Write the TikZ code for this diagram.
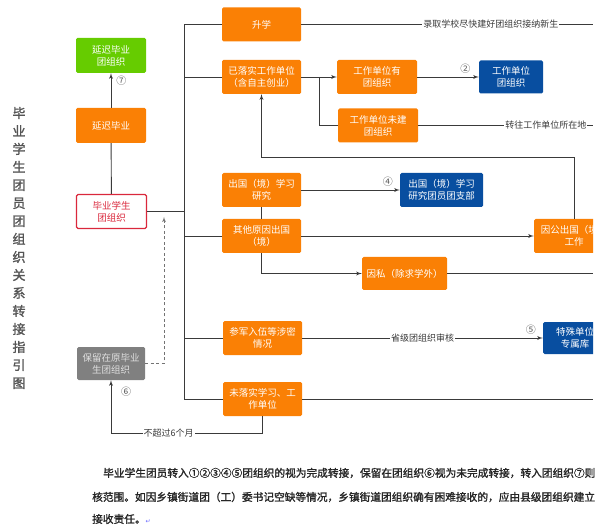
\documentclass[tikz,border=0pt]{standalone}
\usepackage{fontspec}
\setmainfont{Noto Sans CJK SC}
\newfontfamily\heavy[FakeBold=1.6]{Noto Sans CJK SC}
\newfontfamily\symb{DejaVu Sans}
\usetikzlibrary{arrows,positioning}
\definecolor{orangeC}{RGB}{250,128,5}
\definecolor{greenC}{RGB}{102,204,0}
\definecolor{blueC}{RGB}{8,78,160}
\definecolor{grayC}{RGB}{128,128,128}
\definecolor{redC}{RGB}{218,40,60}
\definecolor{lineC}{RGB}{58,58,58}
\definecolor{numC}{RGB}{85,85,85}

\begin{document}
\begin{tikzpicture}[x=1pt,y=-1pt,>=latex',
    box/.style={rounded corners=1.5pt, minimum width=79pt, minimum height=34pt, inner sep=1pt, align=center, text=white, font=\fontsize{9.5}{12}\selectfont},
    org/.style={box, fill=orangeC},
    blu/.style={box, fill=blueC},
    link/.style={draw=lineC, line width=0.9pt},
    lbl/.style={fill=white, inner sep=1pt, text=lineC, font=\fontsize{9}{10}\selectfont},
    num/.style={text=numC, inner sep=1pt, font=\fontsize{10}{10}\selectfont},
    para/.style={anchor=west, inner sep=0pt, text=black!85, font=\heavy\fontsize{10.7}{12}\selectfont}]
    \useasboundingbox (0,0) rectangle (613,529);
    \clip (0,0) rectangle (597,529);
    % title
    \node[text=numC, align=center, font=\heavy\fontsize{13}{18}\selectfont] (title) at (19,248)
        {毕\\业\\学\\生\\团\\员\\团\\组\\织\\关\\系\\转\\接\\指\\引\\图};
    % left column
    \node[box, fill=greenC, minimum width=70pt, minimum height=35pt] (green) at (111,55.5) {延迟毕业\\团组织};
    \node[org, minimum width=70pt, minimum height=35pt] (delay) at (111,125.5) {延迟毕业};
    \node[box, fill=white, draw=redC, line width=1.2pt, text=redC, minimum width=70pt, minimum height=34pt] (grad) at (111.5,211.5) {毕业学生\\团组织};
    \node[box, fill=grayC, text=black!12, minimum width=68pt, minimum height=33pt] (keep) at (111,363.5) {保留在原毕业\\生团组织};
    % branches
    \node[org] (upgrade)     at (261.5,24.5) {升学};
    \node[org] (job)         at (261.5,77)   {已落实工作单位\\（含自主创业）};
    \node[org] (abroadStudy) at (261.5,190)  {出国（境）学习\\研究};
    \node[org] (abroadOther) at (261.5,236)  {其他原因出国\\（境）};
    \node[org] (army)        at (262.5,338)  {参军入伍等涉密\\情况};
    \node[org] (idle)        at (262.5,399)  {未落实学习、工\\作单位};
    \node[org, minimum width=80pt] (jobHas) at (377,77)    {工作单位有\\团组织};
    \node[org, minimum width=80pt] (jobNo)  at (378,125.5) {工作单位未建\\团组织};
    \node[blu, minimum width=64pt, minimum height=33pt] (jobOrg) at (511,77) {工作单位\\团组织};
    \node[blu, minimum width=83pt] (abroadOrg) at (441.5,190) {出国（境）学习\\研究团员团支部};
    \node[org, minimum width=85pt, minimum height=33pt] (private) at (404.5,273.5) {因私（除求学外）};
    \begin{scope}
        \clip (0,0) rectangle (593,529);
        \node[org, minimum width=80pt] (official) at (574,236) {因公出国（境）\\工作};
        \node[blu, minimum width=64pt, minimum height=32pt] (special) at (575,338) {特殊单位\\专属库};
    \end{scope}
    \coordinate (tr) at (184,211.5);
    \coordinate (edge) at (593,0);
    \coordinate (fork) at (319,77);
    \coordinate (back) at (574,157);
    \coordinate (low) at (262.5,433);
    \coordinate (up) at (164,217);
    % connectors
    \draw[link,->] (delay) -- node[num,pos=0.77,right=4pt]{⑦} (green);
    \draw[link] (delay) -- (grad);
    \draw[link] (grad.east) -- (tr);
    \draw[link] (upgrade.west) -| (tr) |- (idle.west);
    \foreach \n in {job,abroadOther,army}
        \draw[link] (tr) |- (\n.west);
    \draw[link] (upgrade.east) -- node[lbl,pos=0.65]{录取学校尽快建好团组织接纳新生} (upgrade.east -| edge);
    \draw[link,->] (job) -- (jobHas);
    \draw[link] (fork) |- (jobNo.west);
    \draw[link,->] (jobHas) -- node[num,pos=0.78,above=2pt]{②} (jobOrg);
    \draw[link] (jobNo.east) -- node[lbl,pos=0.73]{转往工作单位所在地} (jobNo.east -| edge);
    \draw[link,->] (abroadStudy) -- node[num,pos=0.88,above=2pt]{④} (abroadOrg);
    \draw[link] (abroadStudy) -- (abroadOther);
    \draw[link,->] (abroadOther) -- (official);
    \draw[link,->] (abroadOther.south) |- (private.west);
    \draw[link] (private.east) -- (private.east -| edge);
    \draw[link,->] (official.north) -- (back) -| (job.south);
    \draw[link,->] (army) -- node[lbl,pos=0.5]{省级团组织审核} node[num,pos=0.95,above=2pt]{⑤} (special);
    \draw[link] (idle.east) -- (idle.east -| edge);
    \draw[link,->] (idle.south) -- (low) -| node[lbl,pos=0.31]{不超过6个月} (keep.south);
    \node[num] (n6) at (126,392) {⑥};
    \draw[link,draw=black!55,line width=0.7pt,dash pattern=on 3pt off 2.5pt,->] (keep.east) -| (up);
    % note below
    \node[para] (p1) at (103,473) {毕业学生团员转入①②③④⑤团组织的视为完成转接，保留在团组织⑥视为未完成转接，转入团组织⑦则};
    \node[para] (p2) at (92,497) {核范围。如因乡镇街道团（工）委书记空缺等情况，乡镇街道团组织确有困难接收的，应由县级团组织建立};
    \node[para] (p3) at (92,519) {接收责任。{\symb\color{blue!60}\fontsize{6}{6}\selectfont ↵}};
\end{tikzpicture}
\end{document}
